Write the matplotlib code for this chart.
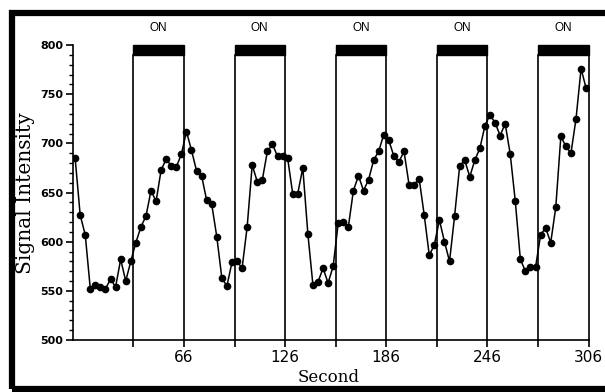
import numpy as np
import matplotlib
matplotlib.use("Agg")
from matplotlib import pyplot as plt, ticker
from matplotlib.patches import Rectangle

# signal intensity, one sample every 3 s
signal = [685, 627, 607, 552, 556, 554, 552, 562, 554, 582,
          560, 580, 599, 615, 626, 652, 641, 673, 684, 677,
          676, 689, 712, 693, 672, 667, 642, 638, 605, 563,
          555, 579, 580, 573, 615, 678, 661, 663, 692, 699,
          687, 687, 685, 649, 649, 675, 608, 556, 559, 573,
          558, 575, 619, 620, 615, 652, 667, 652, 663, 683,
          692, 709, 703, 687, 681, 692, 658, 658, 664, 627,
          586, 597, 622, 600, 580, 626, 677, 683, 666, 683,
          695, 718, 729, 721, 708, 720, 689, 641, 582, 570,
          574, 574, 607, 614, 599, 635, 707, 697, 690, 725,
          776, 756]
seconds = np.arange(len(signal)) * 3 + 1.5

# stimulus blocks (start, end)
on_starts = [36, 96, 156, 216, 276]
on_ends = [66, 126, 186, 246, 306]
tick_labels = ['66', '126', '186', '246', '306']

fig = plt.figure(figsize=(6.05, 3.92), dpi=100)
ax = fig.add_axes([0.12, 0.1327, 0.853, 0.7523])

ax.plot(seconds, signal, color='black', linewidth=1.1,
        marker='o', markersize=4.5, zorder=3)

for s, e in zip(on_starts, on_ends):
    ax.add_patch(Rectangle((s, 790), e - s, 10, facecolor='black',
                           edgecolor='black', clip_on=False))
    ax.plot([s, s], [500, 790], color='black', linewidth=1.2,
            clip_on=False)
    ax.plot([e, e], [500, 790], color='black', linewidth=1.2,
            clip_on=False)
    ax.text((s + e) / 2, 817, 'ON', ha='center', va='center',
            fontsize=8.5, family='Liberation Sans')

ax.set_xlim(0, 306)
ax.set_ylim(500, 800)
for side in ['top', 'right']:
    ax.spines[side].set_visible(False)
for side in ['left', 'bottom']:
    ax.spines[side].set_linewidth(1.2)

ax.set_xticks(on_starts + on_ends)
ax.set_xticklabels([''] * len(on_starts) + tick_labels,
                   family='DejaVu Sans', fontsize=11)
ax.yaxis.set_major_locator(ticker.MultipleLocator(50))
ax.yaxis.set_minor_locator(ticker.MultipleLocator(10))
for lab in ax.get_yticklabels():
    lab.set_family('DejaVu Sans')
    lab.set_fontsize(8)
    lab.set_fontweight('bold')
ax.tick_params(axis='both', which='major', length=5, width=1.2,
               direction='out', pad=2)
ax.tick_params(axis='y', which='minor', length=3, width=1)

ax.set_ylabel('Signal Intensity', family='DejaVu Serif',
              fontsize=14.5)
ax.yaxis.set_label_coords(-0.072, 0.498)
ax.set_xlabel('Second', family='DejaVu Serif', fontsize=12)
ax.xaxis.set_label_coords(0.497, -0.1)

# heavy frame around the whole figure
fig.patches.append(Rectangle((0.0198, 0.0064), 1.05, 0.9605,
                             transform=fig.transFigure, fill=False,
                             edgecolor='black', linewidth=4.5,
                             clip_on=False))

fig.savefig('out.png', dpi=100)
